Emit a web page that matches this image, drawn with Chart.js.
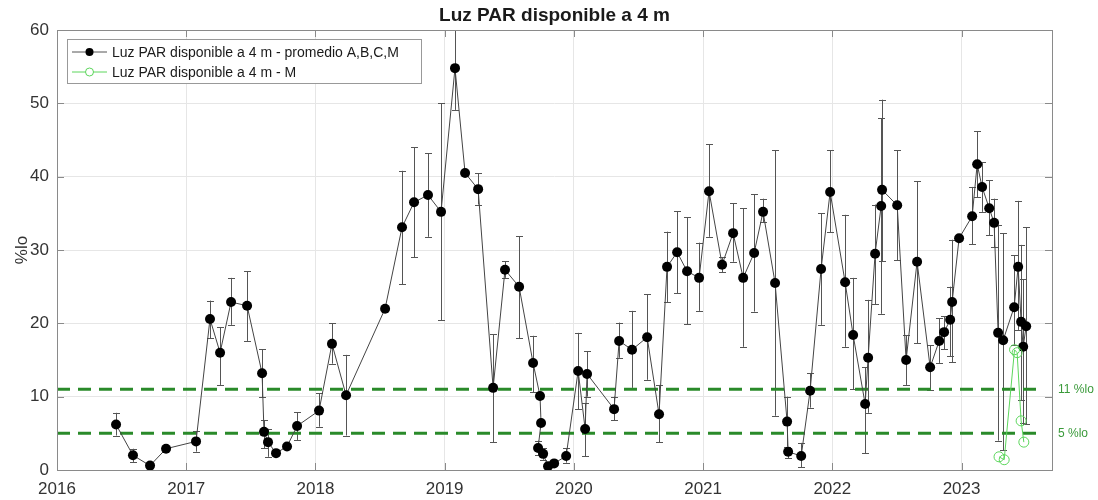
<!DOCTYPE html>
<html><head><meta charset="utf-8">
<script src="https://cdn.jsdelivr.net/npm/chart.js@4/dist/chart.umd.min.js"></script>
<style>html,body{margin:0;padding:0;background:#fff}#wrap{width:1098px;height:500px}</style>
</head><body><div id="wrap"><canvas id="c" width="1098" height="500"></canvas></div>
<script>
// ---- data (decimal years) ----
const chartTitle = 'Luz PAR disponible a 4 m';
const yAxisTitle = '%lo';
const meanLabel = 'Luz PAR disponible a 4 m - promedio A,B,C,M';
const mLabel = 'Luz PAR disponible a 4 m - M';
const xTicks = [2016, 2017, 2018, 2019, 2020, 2021, 2022, 2023];
const yTicks = [0, 10, 20, 30, 40, 50, 60];
const meanYears = [2016.457,2016.588,2016.720,2016.844,2017.076,2017.184,2017.262,2017.347,2017.471,2017.587,
  2017.602,2017.633,2017.695,2017.780,2017.858,2018.028,2018.128,2018.237,2018.539,2018.670,
  2018.763,2018.871,2018.972,2019.080,2019.158,2019.259,2019.375,2019.467,2019.576,2019.684,
  2019.738,2019.746,2019.723,2019.762,2019.800,2019.847,2019.940,2020.033,2020.087,2020.102,
  2020.311,2020.350,2020.450,2020.567,2020.659,2020.721,2020.799,2020.876,2020.969,2021.046,
  2021.147,2021.232,2021.310,2021.395,2021.464,2021.557,2021.650,2021.658,2021.759,2021.828,
  2021.913,2021.983,2022.099,2022.161,2022.254,2022.277,2022.331,2022.378,2022.385,2022.502,
  2022.571,2022.656,2022.757,2022.827,2022.865,2022.912,2022.927,2022.981,2023.082,2023.121,
  2023.159,2023.214,2023.252,2023.283,2023.322,2023.407,2023.438,2023.461,2023.477,2023.500];
const meanValues = [6.2,2.0,0.6,2.9,3.9,20.6,16.0,22.9,22.4,13.2,
  5.2,3.8,2.3,3.2,6.0,8.1,17.2,10.2,22.0,33.1,
  36.5,37.5,35.2,54.8,40.5,38.3,11.2,27.3,25.0,14.6,
  10.1,6.4,3.0,2.2,0.5,0.9,1.9,13.5,5.6,13.1,
  8.3,17.6,16.4,18.1,7.6,27.7,29.7,27.1,26.2,38.0,
  28.0,32.3,26.2,29.6,35.2,25.5,6.6,2.5,1.9,10.8,
  27.4,37.9,25.6,18.4,9.0,15.3,29.5,36.0,38.2,36.1,
  15.0,28.4,14.0,17.6,18.8,20.5,22.9,31.6,34.6,41.7,
  38.6,35.7,33.7,18.7,17.7,22.2,27.7,20.2,16.8,19.6];
const errLow = [4.7,1.1,null,null,2.5,18.0,11.6,19.8,17.6,9.9,
  3.0,1.8,null,null,4.1,5.9,14.5,4.7,null,25.3,
  29.0,31.8,20.4,49.1,null,36.2,3.8,26.2,18.0,10.6,
  null,null,2.0,1.4,null,null,1.0,8.3,1.9,10.0,
  6.8,15.3,11.2,12.3,3.8,22.9,24.1,19.9,21.7,31.8,
  27.0,28.4,16.8,21.6,33.8,7.4,3.2,1.6,0.4,8.5,
  19.8,32.4,16.8,11.0,2.3,7.8,22.6,21.3,28.5,28.6,
  11.6,17.3,10.9,14.6,16.5,15.5,14.7,null,30.8,37.2,
  35.2,32.0,30.4,4.0,2.7,17.0,19.1,9.5,6.4,6.3];
const errHigh = [7.8,2.9,null,null,5.3,23.1,19.5,26.2,27.1,16.5,
  6.8,5.6,null,null,7.9,10.5,20.0,15.7,null,40.8,
  44.0,43.2,50.0,62.0,null,40.5,18.5,28.5,31.9,18.3,
  null,null,4.0,3.0,null,null,3.0,18.7,9.1,16.2,
  10.0,20.1,21.7,24.0,11.6,32.5,35.3,34.5,31.0,44.4,
  29.0,36.4,35.7,37.6,37.0,43.6,10.0,3.0,3.7,13.2,
  35.0,43.6,34.8,26.2,14.0,23.2,36.2,48.0,50.5,43.6,
  18.4,39.4,17.0,20.7,21.0,25.0,31.4,null,38.6,46.2,
  42.0,39.5,37.0,33.4,32.3,29.3,36.7,30.7,26.0,33.1];
const mYears = [2023.290,2023.330,2023.410,2023.430,2023.461,2023.482];
const mValues = [1.8,1.4,16.4,16.0,6.7,3.8];
const thresholds = [11, 5];
const thresholdLabels = ['11 %lo', '5 %lo'];
const xMin = 2016, xMax = 2023.70, thresholdEnd = 2023.60;

const FONT = '"Liberation Sans", Arial, Helvetica, sans-serif';
const GREEN_DASH = '#2a8a2a';
const GREEN_M = '#5cd65c';

const meanPts = meanYears.map((x, i) => ({x, y: meanValues[i]}));
const mPts = mYears.map((x, i) => ({x, y: mValues[i]}));

const overlay = {
  id: 'overlay',
  beforeDatasetsDraw(chart) {
    const {ctx, chartArea: a, scales: {x, y}} = chart;
    ctx.save();
    ctx.beginPath(); ctx.rect(a.left, a.top, a.right - a.left, a.bottom - a.top); ctx.clip();
    ctx.strokeStyle = '#555'; ctx.lineWidth = 1;
    meanYears.forEach((yr, i) => {
      if (errLow[i] == null) return;
      const px = Math.round(x.getPixelForValue(yr)) + 0.5;
      const pl = y.getPixelForValue(errLow[i]);
      const ph = y.getPixelForValue(errHigh[i]);
      ctx.beginPath();
      ctx.moveTo(px, pl); ctx.lineTo(px, ph);
      ctx.moveTo(px - 3.5, Math.round(pl) + 0.5); ctx.lineTo(px + 3.5, Math.round(pl) + 0.5);
      ctx.moveTo(px - 3.5, Math.round(ph) + 0.5); ctx.lineTo(px + 3.5, Math.round(ph) + 0.5);
      ctx.stroke();
    });
    ctx.restore();
  },
  afterDraw(chart) {
    const {ctx, chartArea: a, scales: {x, y}} = chart;
    ctx.save();
    // frame
    ctx.strokeStyle = '#8a8a8a'; ctx.lineWidth = 1;
    ctx.strokeRect(Math.round(a.left) + 0.5, Math.round(a.top) + 0.5, Math.round(a.right - a.left), Math.round(a.bottom - a.top));
    // inward ticks
    ctx.beginPath();
    yTicks.forEach(v => {
      const py = Math.round(y.getPixelForValue(v)) + 0.5;
      ctx.moveTo(a.left, py); ctx.lineTo(a.left + 7, py);
      ctx.moveTo(a.right, py); ctx.lineTo(a.right - 7, py);
    });
    xTicks.forEach(v => {
      const px = Math.round(x.getPixelForValue(v)) + 0.5;
      ctx.moveTo(px, a.bottom); ctx.lineTo(px, a.bottom - 7);
      ctx.moveTo(px, a.top); ctx.lineTo(px, a.top + 7);
    });
    ctx.stroke();
    // title
    ctx.fillStyle = '#1a1a1a';
    ctx.font = 'bold 19px ' + FONT;
    ctx.textAlign = 'center'; ctx.textBaseline = 'middle';
    ctx.fillText(chartTitle, (a.left + a.right) / 2, 16);
    // threshold labels
    ctx.fillStyle = '#3a9a3a';
    ctx.font = '12px ' + FONT;
    ctx.textAlign = 'left';
    thresholds.forEach((t, i) => ctx.fillText(thresholdLabels[i], a.right + 6, y.getPixelForValue(t)));
    // legend
    const lx = 67, ly = 39, lw = 354, lh = 44;
    ctx.fillStyle = '#fff'; ctx.fillRect(lx, ly, lw, lh);
    ctx.strokeStyle = '#999'; ctx.strokeRect(lx + 0.5, ly + 0.5, lw, lh);
    const rows = [ly + 13, ly + 33];
    ctx.lineWidth = 1;
    ctx.strokeStyle = '#555';
    ctx.beginPath(); ctx.moveTo(lx + 5, rows[0]); ctx.lineTo(lx + 40, rows[0]); ctx.stroke();
    ctx.fillStyle = '#000';
    ctx.beginPath(); ctx.arc(lx + 22.5, rows[0], 4, 0, Math.PI * 2); ctx.fill();
    ctx.strokeStyle = GREEN_M;
    ctx.beginPath(); ctx.moveTo(lx + 5, rows[1]); ctx.lineTo(lx + 40, rows[1]); ctx.stroke();
    ctx.fillStyle = '#fff';
    ctx.beginPath(); ctx.arc(lx + 22.5, rows[1], 4, 0, Math.PI * 2); ctx.fill(); ctx.stroke();
    ctx.fillStyle = '#1a1a1a';
    ctx.font = '14px ' + FONT;
    ctx.textAlign = 'left';
    ctx.fillText(meanLabel, lx + 45, rows[0] + 1);
    ctx.fillText(mLabel, lx + 45, rows[1] + 1);
    ctx.restore();
  }
};

new Chart(document.getElementById('c'), {
  type: 'scatter',
  data: {
    datasets: [
      {label: mLabel, data: mPts, showLine: true, borderColor: GREEN_M, borderWidth: 1,
       pointRadius: 5, pointBackgroundColor: 'rgba(0,0,0,0)', pointBorderColor: GREEN_M, pointBorderWidth: 1},
      {label: meanLabel, data: meanPts, showLine: true, borderColor: '#444', borderWidth: 1,
       pointRadius: 5, pointBackgroundColor: '#000', pointBorderColor: '#000', pointBorderWidth: 0},
      ...thresholds.map(t => ({label: 't' + t, data: [{x: xMin, y: t}, {x: thresholdEnd, y: t}], showLine: true,
        borderColor: GREEN_DASH, borderWidth: 3, borderDash: [13, 8], pointRadius: 0}))
    ]
  },
  options: {
    responsive: false, animation: false,
    layout: {padding: {top: 30, right: 46, left: 0, bottom: 0}},
    plugins: {legend: {display: false}, tooltip: {enabled: false}, title: {display: false}},
    scales: {
      x: {type: 'linear', min: xMin, max: xMax,
        afterBuildTicks: s => { s.ticks = xTicks.map(v => ({value: v})); },
        afterFit: s => { s.height = 30; },
        grid: {color: '#e6e6e6', drawTicks: false},
        border: {display: false},
        ticks: {color: '#333', font: {family: FONT, size: 17}, padding: 9, maxRotation: 0, autoSkip: false,
          callback: v => String(v)}},
      y: {min: 0, max: 60,
        afterBuildTicks: s => { s.ticks = yTicks.map(v => ({value: v})); },
        afterFit: s => { s.width = 57; },
        grid: {color: '#e6e6e6', drawTicks: false},
        border: {display: false},
        title: {display: true, text: yAxisTitle, color: '#333', font: {family: FONT, size: 17}, padding: {top: 12, bottom: 0}},
        ticks: {color: '#333', font: {family: FONT, size: 17}, padding: 8, callback: v => String(v)}}
    }
  },
  plugins: [overlay]
});
</script></body></html>
